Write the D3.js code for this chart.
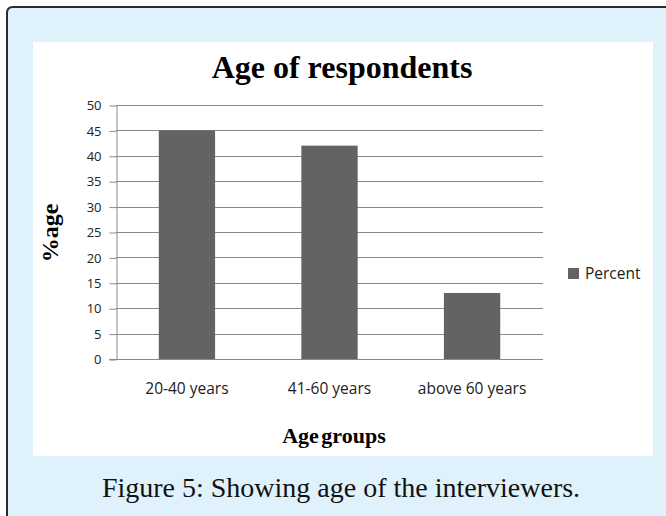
<!DOCTYPE html>
<html>
<head>
<meta charset="utf-8">
<script src="https://cdn.jsdelivr.net/npm/d3@7"></script>
<style>
  html, body { margin: 0; padding: 0; background: #ffffff; }
  svg { display: block; }
</style>
</head>
<body>
<svg id="chart" width="666" height="516"></svg>
<script>
// Age groups and share of respondents (%)
const categories = ["20-40 years", "41-60 years", "above 60 years"];
const percentValues = [45, 42, 13];
const yTicks = [0, 5, 10, 15, 20, 25, 30, 35, 40, 45, 50];
const seriesName = "Percent";

const svg = d3.select("#chart");
const sans = "'Open Sans', 'Liberation Sans', sans-serif";
const serif = "'Liberation Serif', serif";

// Framed figure box with light blue fill
svg.append("path")
  .attr("d", "M7,520 L7,13 Q7,7 13,7 L670,7 L670,520 Z")
  .attr("fill", "#dff1fb")
  .attr("stroke", "#2b2b2b")
  .attr("stroke-width", 2);

// White chart area
svg.append("rect")
  .attr("x", 33).attr("y", 42)
  .attr("width", 620).attr("height", 414)
  .attr("fill", "#ffffff");

const plot = { left: 116, right: 543, top: 105, bottom: 359 };

const x = d3.scaleBand()
  .domain(categories)
  .range([plot.left, plot.right])
  .paddingInner(0.605)
  .paddingOuter(0.3);

const y = d3.scaleLinear()
  .domain([0, 50])
  .range([plot.bottom, plot.top]);

// Horizontal gridlines
svg.append("g")
  .selectAll("line")
  .data(yTicks)
  .join("line")
  .attr("x1", plot.left).attr("x2", plot.right)
  .attr("y1", d => Math.round(y(d)) + 0.5)
  .attr("y2", d => Math.round(y(d)) + 0.5)
  .attr("stroke", "#8a8a8a")
  .attr("stroke-width", 1);

// Y axis with short outer ticks
const yAxis = svg.append("g")
  .attr("transform", `translate(${plot.left + 0.5},0.5)`)
  .call(d3.axisLeft(y).tickValues(yTicks).tickSize(7).tickPadding(8).tickSizeOuter(0));
yAxis.select(".domain").attr("stroke", "#8a8a8a");
yAxis.selectAll(".tick line").attr("stroke", "#8a8a8a");
yAxis.selectAll(".tick text")
  .attr("font-family", sans)
  .attr("font-size", 13)
  .attr("fill", "#222");

// Bars
svg.append("g")
  .selectAll("rect")
  .data(percentValues)
  .join("rect")
  .attr("x", (d, i) => x(categories[i]))
  .attr("width", x.bandwidth())
  .attr("y", d => y(d))
  .attr("height", d => y(0) - y(d))
  .attr("fill", "#636363");

// X axis baseline and category labels
const xAxis = svg.append("g")
  .attr("transform", `translate(0,${Math.round(y(0)) + 0.5})`)
  .call(d3.axisBottom(x).tickSize(0).tickPadding(23));
xAxis.select(".domain").attr("stroke", "#8a8a8a").attr("d", `M${plot.left - 7},0H${plot.right}`);
xAxis.selectAll(".tick text")
  .attr("font-family", sans)
  .attr("font-size", 15.5)
  .attr("fill", "#222");

// Title
svg.append("text")
  .attr("x", 342).attr("y", 78)
  .attr("text-anchor", "middle")
  .attr("font-family", serif)
  .attr("font-weight", "bold")
  .attr("font-size", 32)
  .attr("fill", "#000")
  .text("Age of respondents");

// Y axis title
svg.append("text")
  .attr("transform", "translate(58,233) rotate(-90)")
  .attr("text-anchor", "middle")
  .attr("font-family", serif)
  .attr("font-weight", "bold")
  .attr("font-size", 24)
  .attr("fill", "#000")
  .text("%age");

// X axis title
svg.append("text")
  .attr("x", 334).attr("y", 443)
  .attr("text-anchor", "middle")
  .attr("font-family", serif)
  .attr("font-weight", "bold")
  .attr("font-size", 22)
  .attr("word-spacing", -3)
  .attr("fill", "#000")
  .text("Age groups");

// Legend
const legend = svg.append("g").attr("transform", "translate(568,268)");
legend.append("rect")
  .attr("width", 11).attr("height", 11)
  .attr("fill", "#636363");
legend.append("text")
  .attr("x", 17).attr("y", 11)
  .attr("font-family", sans)
  .attr("font-size", 15.5)
  .attr("fill", "#222")
  .text(seriesName);

// Figure caption
svg.append("text")
  .attr("x", 341).attr("y", 497)
  .attr("text-anchor", "middle")
  .attr("font-family", serif)
  .attr("font-size", 28)
  .attr("fill", "#111")
  .text("Figure 5: Showing age of the interviewers.");
</script>
</body>
</html>
